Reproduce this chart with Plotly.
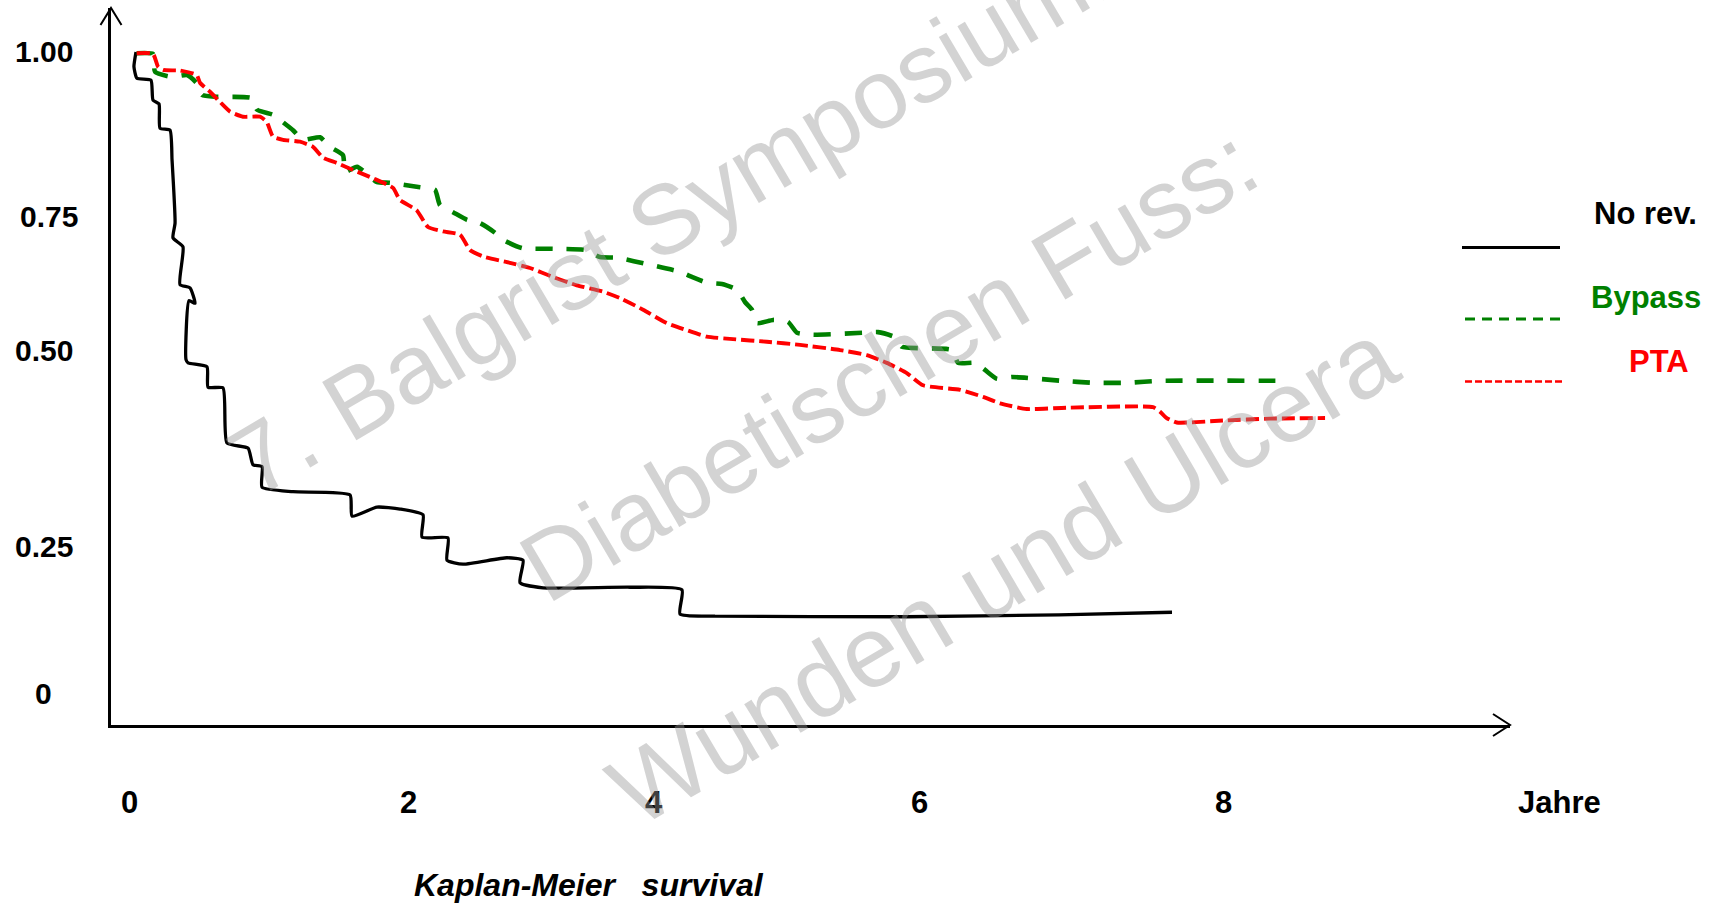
import plotly.graph_objects as go

# ---------------- data (years, survival) ----------------
no_rev_years = [0.0, -0.015, 0.007, 0.109, 0.124, 0.168, 0.175, 0.248, 0.263, 0.285, 0.270, 0.343,
                0.321, 0.394, 0.431, 0.387, 0.365, 0.380, 0.518, 0.526, 0.635, 0.664, 0.818, 0.854,
                0.920, 0.920, 1.146, 1.562, 1.577, 1.759, 1.927, 2.095, 2.088, 2.277, 2.270, 2.387,
                2.708, 2.825, 2.803, 2.971, 3.606, 3.985, 3.971, 4.226, 5.620, 6.737, 7.562]
no_rev_surv = [1.0, 0.977, 0.959, 0.956, 0.925, 0.919, 0.881, 0.878, 0.832, 0.733, 0.710, 0.696,
               0.637, 0.632, 0.608, 0.612, 0.520, 0.515, 0.509, 0.477, 0.476, 0.390, 0.382, 0.356,
               0.353, 0.321, 0.314, 0.309, 0.276, 0.290, 0.287, 0.278, 0.243, 0.242, 0.207, 0.201,
               0.211, 0.207, 0.172, 0.164, 0.165, 0.161, 0.123, 0.120, 0.119, 0.122, 0.126]

bypass_years = [0.005, 0.124, 0.139, 0.263, 0.372, 0.445, 0.482, 0.591, 0.847, 0.883, 1.000, 1.051,
                1.146, 1.219, 1.343, 1.416, 1.511, 1.526, 1.613, 1.759, 1.854, 2.073, 2.182, 2.219,
                2.314, 2.416, 2.511, 2.620, 2.679, 2.818, 3.044, 3.277, 3.387, 3.511, 3.752, 3.971,
                4.058, 4.168, 4.277, 4.387, 4.445, 4.496, 4.533, 4.650, 4.759, 4.825, 4.942, 5.307,
                5.416, 5.540, 5.591, 5.956, 6.000, 6.124, 6.197, 6.285, 6.394, 6.759, 6.985, 7.234,
                7.474, 8.401]
bypass_surv = [0.998, 0.997, 0.969, 0.961, 0.964, 0.951, 0.933, 0.930, 0.928, 0.910, 0.902, 0.894,
               0.878, 0.863, 0.867, 0.852, 0.839, 0.813, 0.821, 0.797, 0.796, 0.789, 0.785, 0.761,
               0.750, 0.738, 0.733, 0.718, 0.707, 0.694, 0.693, 0.691, 0.680, 0.679, 0.668, 0.657,
               0.649, 0.640, 0.638, 0.629, 0.610, 0.598, 0.577, 0.582, 0.579, 0.562, 0.559, 0.562,
               0.563, 0.555, 0.540, 0.535, 0.515, 0.515, 0.504, 0.490, 0.493, 0.487, 0.484, 0.484,
               0.487, 0.487]

pta_years = [0.005, 0.124, 0.161, 0.197, 0.321, 0.443, 0.467, 0.540, 0.613, 0.686, 0.781, 0.905,
             0.954, 1.000, 1.073, 1.197, 1.292, 1.365, 1.465, 1.584, 1.730, 1.876, 1.927, 2.049,
             2.131, 2.241, 2.365, 2.438, 2.533, 2.730, 2.876, 3.044, 3.217, 3.409, 3.533, 3.701,
             3.874, 4.020, 4.166, 4.358, 4.604, 4.847, 5.139, 5.334, 5.480, 5.626, 5.745, 6.015,
             6.182, 6.307, 6.501, 6.793, 7.423, 7.474, 7.523, 7.596, 7.934, 8.277, 8.679]
pta_surv = [0.998, 0.997, 0.977, 0.972, 0.971, 0.964, 0.952, 0.938, 0.922, 0.907, 0.899, 0.899,
            0.891, 0.868, 0.863, 0.860, 0.852, 0.835, 0.827, 0.816, 0.803, 0.788, 0.769, 0.753,
            0.727, 0.720, 0.715, 0.691, 0.681, 0.671, 0.663, 0.649, 0.636, 0.626, 0.616, 0.598,
            0.577, 0.566, 0.556, 0.552, 0.548, 0.543, 0.535, 0.527, 0.515, 0.499, 0.480, 0.473,
            0.462, 0.452, 0.443, 0.445, 0.446, 0.439, 0.429, 0.422, 0.425, 0.428, 0.429]

# tick labels (placed where the slide shows them)
y_tick_labels = ["1.00", "0.75", "0.50", "0.25", "0"]
y_tick_values = [1.0, 0.744, 0.534, 0.229, 0.0]
x_tick_labels = ["0", "2", "4", "6", "8"]
x_tick_values = [-0.051, 1.99, 3.78, 5.72, 7.94]
x_unit_label = "Jahre"
caption = "Kaplan-Meier\u00a0\u00a0 survival"
series_names = ["No rev.", "Bypass", "PTA"]
watermark_lines = ["7. Balgrist Symposium:", "Diabetischen Fuss:", "Wunden und Ulcera"]

# ---------------- geometry / style ----------------
FIG_W, FIG_H = 1718, 903
L, R, T, B = 111, 1510, 8, 725          # plot-area edges in pixels
X_RANGE = [-0.1825, 10.029]
Y_RANGE = [-0.0499, 1.0686]
FONT = "Liberation Sans, Arial, sans-serif"


def px(X):
    return (X - L) / (R - L)


def py(Y):
    return (B - Y) / (B - T)


fig = go.Figure()
fig.add_trace(go.Scatter(x=no_rev_years, y=no_rev_surv, mode="lines", name=series_names[0],
                         line=dict(color="black", width=3.3, shape="spline", smoothing=0.5)))
fig.add_trace(go.Scatter(x=bypass_years, y=bypass_surv, mode="lines", name=series_names[1],
                         line=dict(color="#008000", width=4.6, dash="17px,14px",
                                   shape="spline", smoothing=0.5)))
fig.add_trace(go.Scatter(x=pta_years, y=pta_surv, mode="lines", name=series_names[2],
                         line=dict(color="#ff0000", width=3.9, dash="13px,5px",
                                   shape="spline", smoothing=0.5)))

shapes = []
# axis arrowheads (open V)
shapes.append(dict(type="path", xref="paper", yref="paper",
                   path=f"M {px(100.5)},{py(25)} L {px(111)},{py(T)} L {px(121.5)},{py(25)}",
                   line=dict(color="black", width=2)))
shapes.append(dict(type="path", xref="paper", yref="paper",
                   path=f"M {px(1493)},{py(714)} L {px(R)},{py(725)} L {px(1493)},{py(736)}",
                   line=dict(color="black", width=2)))
# legend samples
legend_rows = [
    (series_names[0], "black", 3, "solid", 1462, 1560, 247.5, 1645, 214),
    (series_names[1], "#008000", 3, "10px,7px", 1465, 1563, 319, 1646, 297),
    (series_names[2], "#ff0000", 2.5, "7px,3px", 1465, 1563, 381.5, 1659, 361),
]
annotations = []
for name, col, w, dash, x0, x1, yl, tx, ty in legend_rows:
    shapes.append(dict(type="line", xref="paper", yref="paper",
                       x0=px(x0), x1=px(x1), y0=py(yl), y1=py(yl),
                       line=dict(color=col, width=w, dash=dash)))
    annotations.append(dict(text=f"<b>{name}</b>", xref="paper", yref="paper",
                            x=px(tx), y=py(ty), xanchor="center", yanchor="middle",
                            showarrow=False, font=dict(family=FONT, size=31, color=col)))

# y tick labels
y_label_x = [44, 49, 44, 44, 43]
for lab, val, xx in zip(y_tick_labels, y_tick_values, y_label_x):
    annotations.append(dict(text=f"<b>{lab}</b>", xref="paper", yref="y", x=px(xx), y=val,
                            xanchor="center", yanchor="middle", showarrow=False,
                            font=dict(family=FONT, size=30, color="black")))
# x tick labels
for lab, val in zip(x_tick_labels, x_tick_values):
    annotations.append(dict(text=f"<b>{lab}</b>", xref="x", yref="paper", x=val, y=py(802.6),
                            xanchor="center", yanchor="middle", showarrow=False,
                            font=dict(family=FONT, size=31, color="black")))
# axis unit label (sits right of the axis end)
annotations.append(dict(text=f"<b>{x_unit_label}</b>", xref="paper", yref="paper",
                        x=px(1559.6), y=py(802.6), xanchor="center", yanchor="middle",
                        showarrow=False, font=dict(family=FONT, size=31, color="black")))
# caption
annotations.append(dict(text=f"<b><i>{caption}</i></b>", xref="paper", yref="paper",
                        x=px(589), y=py(885), xanchor="center", yanchor="middle",
                        showarrow=False, font=dict(family=FONT, size=32, color="black")))
# watermark
wm_specs = [(670, 216, 98), (889, 364, 98), (1003, 573, 101)]
for line, (cx, cy, fs) in zip(watermark_lines, wm_specs):
    annotations.append(dict(text=line, xref="paper", yref="paper", x=px(cx), y=py(cy),
                            xanchor="center", yanchor="middle", textangle=-30.5,
                            showarrow=False,
                            font=dict(family=FONT, size=fs, color="rgba(150,150,150,0.42)")))

axis_common = dict(showgrid=False, zeroline=False, showticklabels=False, ticks="",
                   showline=True, linecolor="black", linewidth=2.5, fixedrange=True)
fig.update_layout(
    width=FIG_W, height=FIG_H,
    margin=dict(l=L, r=FIG_W - R, t=T, b=FIG_H - B, pad=0),
    paper_bgcolor="white", plot_bgcolor="white",
    showlegend=False,
    xaxis=dict(range=X_RANGE, **axis_common),
    yaxis=dict(range=Y_RANGE, **axis_common),
    shapes=shapes,
    annotations=annotations,
)

fig.write_html("out.html")
